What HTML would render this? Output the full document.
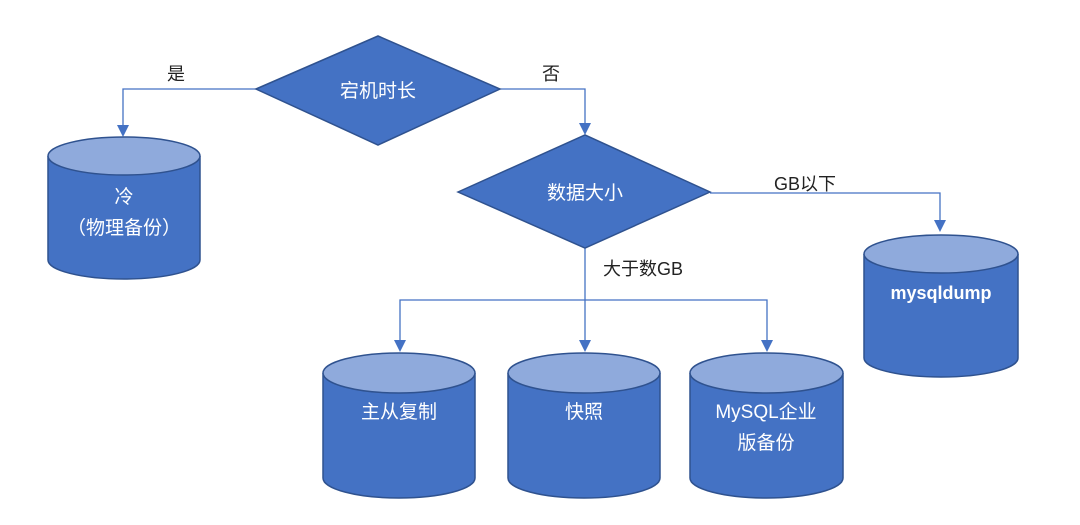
<!DOCTYPE html>
<html><head><meta charset="utf-8"><style>
body{margin:0;background:#fff;}
svg text{font-family:"Liberation Sans","Noto Sans CJK SC",sans-serif;}
</style></head><body>
<svg width="1080" height="520" viewBox="0 0 1080 520" xmlns="http://www.w3.org/2000/svg">
<defs>
<marker id="a" markerWidth="10" markerHeight="10" refX="5" refY="9" orient="auto" markerUnits="userSpaceOnUse">
<path d="M0,0 L10,0 L5,10 Z" fill="#4472C4" transform="rotate(-90 5 5)"/>
</marker>
</defs>
<g fill="none" stroke="#4472C4" stroke-width="1.3">
<polyline points="256,89 123,89 123,128"/>
<polyline points="500,89 585,89 585,128"/>
<polyline points="710,193 940,193 940,225"/>
<polyline points="585,248 585,300"/>
<polyline points="400,345 400,300 767,300 767,345"/>
<line x1="585" y1="300" x2="585" y2="345"/>
</g>
<g fill="#4472C4">
<path d="M117,125 L129,125 L123,137 Z"/>
<path d="M579,123 L591,123 L585,135 Z"/>
<path d="M934,220 L946,220 L940,232 Z"/>
<path d="M394,340 L406,340 L400,352 Z"/>
<path d="M579,340 L591,340 L585,352 Z"/>
<path d="M761,340 L773,340 L767,352 Z"/>
</g>
<g stroke="#2F528F" stroke-width="1.5">
<polygon points="256,89 378,36 500,89 378,145" fill="#4472C4"/>
<polygon points="458,192 585,135 710,192 585,248" fill="#4472C4"/>
</g>
<g stroke="#2F528F" stroke-width="1.5">
<!-- cyl1 -->
<path d="M48,156 L48,260 A76,19 0 0 0 200,260 L200,156" fill="#4472C4"/>
<ellipse cx="124" cy="156" rx="76" ry="19" fill="#8FAADC"/>
<!-- mysqldump -->
<path d="M864,254 L864,358 A77,19 0 0 0 1018,358 L1018,254" fill="#4472C4"/>
<ellipse cx="941" cy="254" rx="77" ry="19" fill="#8FAADC"/>
<path d="M323,373 L323,478 A76,20 0 0 0 475,478 L475,373" fill="#4472C4"/>
<ellipse cx="399" cy="373" rx="76" ry="20" fill="#8FAADC"/>
<path d="M508,373 L508,478 A76,20 0 0 0 660,478 L660,373" fill="#4472C4"/>
<ellipse cx="584" cy="373" rx="76" ry="20" fill="#8FAADC"/>
<path d="M690,373 L690,478 A76.5,20 0 0 0 843,478 L843,373" fill="#4472C4"/>
<ellipse cx="766.5" cy="373" rx="76.5" ry="20" fill="#8FAADC"/>
</g>
<g fill="#fff" font-size="19" text-anchor="middle">
<text x="378" y="97">宕机时长</text>
<text x="585" y="199">数据大小</text>
<text x="124" y="203">冷</text>
<text x="124" y="234">（物理备份）</text>
<text x="941" y="299" font-weight="bold" font-size="18">mysqldump</text>
<text x="399" y="418">主从复制</text>
<text x="584" y="418">快照</text>
<text x="766" y="418">MySQL企业</text>
<text x="766" y="449">版备份</text>
</g>
<g fill="#222" font-size="18" text-anchor="middle">
<text x="176" y="80">是</text>
<text x="551" y="80">否</text>
<text x="805" y="190">GB以下</text>
<text x="643" y="275">大于数GB</text>
</g>
</svg>
</body></html>
